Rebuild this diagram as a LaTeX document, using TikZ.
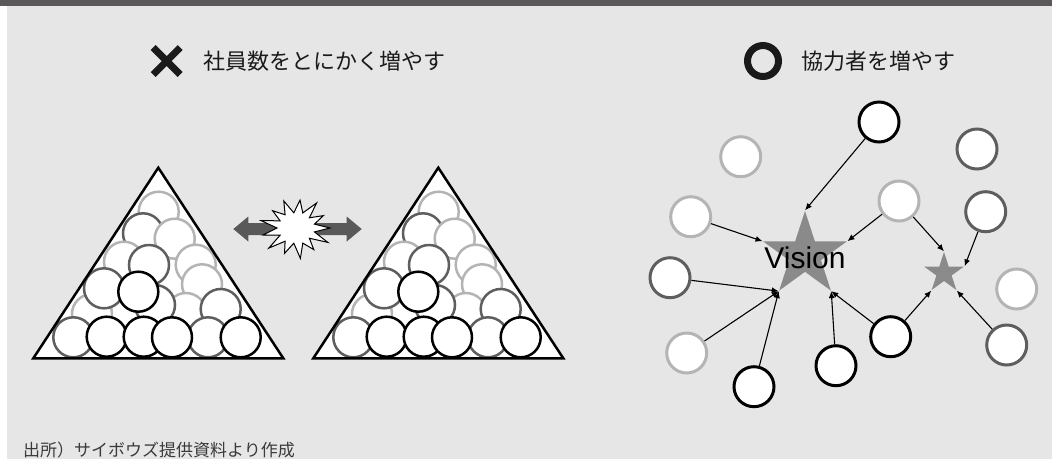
\documentclass[tikz,border=0pt]{standalone}
\usepackage{fontspec}
\newfontfamily\jp{Noto Sans CJK JP}
\newfontfamily\lsans{Liberation Sans}
\usetikzlibrary{shapes.geometric,arrows.meta}
\definecolor{bg}{HTML}{E6E6E6}
\definecolor{bar}{HTML}{5A5858}
\definecolor{dk}{HTML}{5E5E5E}
\definecolor{lt}{HTML}{B4B4B4}
\definecolor{arr}{HTML}{595959}
\definecolor{starc}{HTML}{8A8A8A}
\definecolor{hd}{HTML}{1A1A1A}
\definecolor{ft}{HTML}{3A3A3A}
\newcommand\mypile{%
 \fill[white] (33.3,358.3) -- (283.3,358.3) -- (158.3,167.7) -- cycle;
 \begin{scope}
 \clip (33.3,358.3) -- (283.3,358.3) -- (158.3,167.7) -- cycle;
 \node[lg] (l1) at (158.7,211.7) {};
 \node[dg] (d1) at (143,233.3) {};
 \node[lg] (l2) at (174.7,238.7) {};
 \node[lg] (l3) at (124,261.7) {};
 \node[lg] (l4) at (195.7,264.7) {};
 \node[dg] (d2) at (149,265) {};
 \node[lg] (l5) at (202,284.3) {};
 \node[lg] (l6) at (92,314) {};
 \node[lg] (l7) at (186,313) {};
 \node[dg] (d3) at (104,288.3) {};
 \node[dg] (d4) at (155,305) {};
 \node[dg] (d5) at (220.7,309) {};
 \node[dg] (d6) at (73.3,337.3) {};
 \node[dg] (d8) at (208,337.3) {};
 \node[bk] (b1) at (138.3,291.7) {};
 \node[bk] (b2) at (106.7,336.7) {};
 \node[bk] (b3) at (143.7,336.7) {};
 \node[bk] (b4) at (172,337.3) {};
 \node[bk] (b5) at (240.7,337.3) {};
 \end{scope}
 \draw[line width=2.5pt,line join=miter] (33.3,358.3) -- (283.3,358.3) -- (158.3,167.7) -- cycle;
}
\begin{document}
\begin{tikzpicture}[x=1pt,y=-1pt,
  ball/.style={circle,draw,fill=white,minimum size=40pt,inner sep=0pt,line width=2.5pt},
  bk/.style={ball,draw=black},
  dg/.style={ball,draw=dk},
  lg/.style={ball,draw=lt},
  nb/.style={ball,line width=3pt,draw=black},
  nd/.style={ball,line width=3pt,draw=dk},
  nl/.style={ball,line width=3pt,draw=lt},
  con/.style={-{Latex[length=7pt,width=6pt]},line width=1.1pt,black},
  vstar/.style={star,star points=5,star point ratio=2.618,fill=starc,inner sep=0pt,draw=none},
]
\useasboundingbox (0,0) rectangle (1052,459);
\fill[white] (0,0) rectangle (1052,459);
\fill[bg] (7,0) rectangle (1052,459);
\fill[bar] (0,0) rectangle (1052,6);

% headings
\draw[line width=7pt,hd] (153.2,47.5) -- (180.2,74.5) (153.2,74.5) -- (180.2,47.5);
\node[anchor=base west,inner sep=0pt,font=\jp\fontsize{22}{22}\selectfont,text=hd] (t1) at (203,69) {社員数をとにかく増やす};
\draw[line width=7pt,hd] (763,61) circle (15.5);
\node[anchor=base west,inner sep=0pt,font=\jp\fontsize{22}{22}\selectfont,text=hd] (t2) at (801,69) {協力者を増やす};

% piles
\begin{scope}[name prefix=pa-]
\mypile
\end{scope}
\begin{scope}[shift={(280,0)},name prefix=pb-]
\mypile
\end{scope}

% double arrow and burst
\fill[arr] (233.3,229) -- (248.3,216.5) -- (248.3,223) -- (346.7,223) -- (346.7,216.5) -- (361.7,229) -- (346.7,241.5) -- (346.7,235) -- (248.3,235) -- (248.3,241.5) -- cycle;
\draw[fill=white,line width=1pt,line join=miter,shift={(296,228)},yscale=0.85]
 (0:34) -- (14:19) -- (28:36) -- (42:18) -- (55:31) -- (69:19) -- (83:36) -- (97:18) -- (111:32) -- (125:19) -- (139:36) -- (152:18) -- (166:34) -- (180:19) -- (194:36) -- (208:18) -- (221:31) -- (235:19) -- (249:34) -- (263:18) -- (277:33) -- (291:19) -- (305:36) -- (318:18) -- (332:31) -- (346:19) -- cycle;

% network
\node[vstar,minimum size=88pt] (V) at (805,255) {};
\node[vstar,minimum size=42pt] (S) at (944,273) {};
\node[inner sep=0pt,font=\lsans\fontsize{30}{30}\selectfont] (vt) at (805,258) {Vision};

\node[nb] (n1) at (879,122) {};
\node[nl] (n2) at (740.7,156.7) {};
\node[nd] (n3) at (977,149) {};
\node[nl] (n4) at (690.7,216.7) {};
\node[nl] (n5) at (899,201) {};
\node[nd] (n6) at (985.7,211.7) {};
\node[nd] (n7) at (670,277.7) {};
\node[nl] (n8) at (1016.7,289) {};
\node[nl] (n9) at (686.7,353) {};
\node[nb] (n10) at (754,386.7) {};
\node[nb] (n11) at (836,365.7) {};
\node[nb] (n12) at (890.7,336.7) {};
\node[nd] (n13) at (1006.7,345) {};

\draw[con] (n1) -- (V.outer point 1);
\draw[con] (n4) -- (V.outer point 2);
\draw[con] (n5) -- (V.outer point 5);
\draw[con] (n5) -- (S.outer point 1);
\draw[con] (n6) -- (S.outer point 5);
\draw[con] (n7) -- (V.outer point 3);
\draw[con] (n9) -- (V.outer point 3);
\draw[con] (n10) -- (V.outer point 3);
\draw[con] (n11) -- (V.outer point 4);
\draw[con] (n12) -- (V.outer point 4);
\draw[con] (n12) -- (S.outer point 3);
\draw[con] (n13) -- (S.outer point 4);

% footer
\node[anchor=base west,inner sep=0pt,font=\jp\fontsize{17}{17}\selectfont,text=ft] (t3) at (23,456) {出所）サイボウズ提供資料より作成};
\end{tikzpicture}
\end{document}
